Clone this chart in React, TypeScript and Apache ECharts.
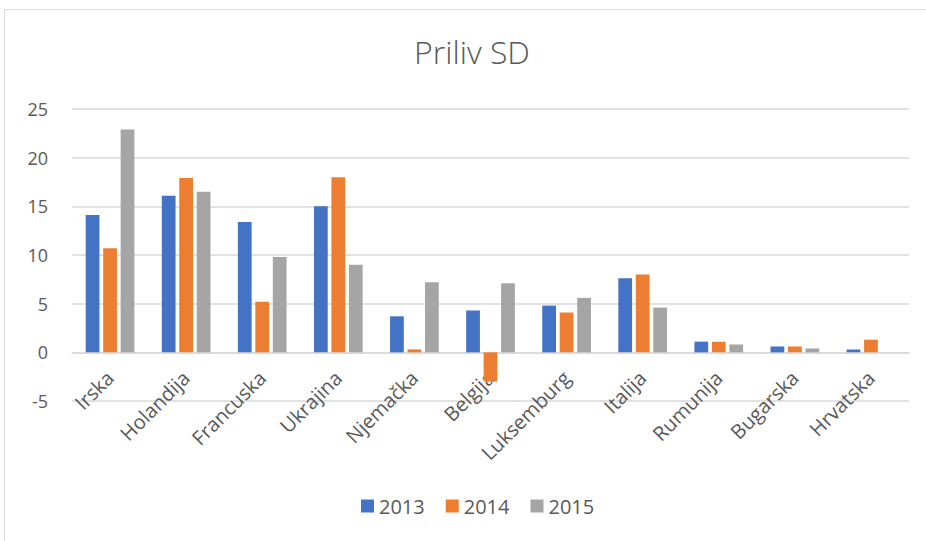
import React, { useEffect, useRef } from "react";
import * as echarts from "echarts";

const categories = ["Irska", "Holandija", "Francuska", "Ukrajina", "Njemačka", "Belgija", "Luksemburg", "Italija", "Rumunija", "Bugarska", "Hrvatska"];
const seriesNames = ["2013", "2014", "2015"];
const values2013 = [14.1, 16.1, 13.4, 15.0, 3.7, 4.3, 4.8, 7.6, 1.1, 0.6, 0.3];
const values2014 = [10.7, 17.9, 5.2, 18.0, 0.3, -3.0, 4.1, 8.0, 1.1, 0.6, 1.3];
const values2015 = [22.9, 16.5, 9.8, 9.0, 7.2, 7.1, 5.6, 4.6, 0.8, 0.4, 0];
const colors = ["#4472C4", "#ED7D31", "#A5A5A5"];

const FONT = "'Open Sans', 'Noto Sans', sans-serif";

export default function App() {
  const ref = useRef<HTMLDivElement>(null);
  useEffect(() => {
    if (!ref.current) return;
    const chart = echarts.init(ref.current, undefined, { renderer: "svg" });
    const data = [values2013, values2014, values2015];
    chart.setOption({
      animation: false,
      backgroundColor: "#ffffff",
      textStyle: { fontFamily: FONT },
      title: {
        text: "Priliv SD",
        left: 409,
        top: 30,
        textStyle: { fontSize: 32, fontWeight: 300, color: "#595959", fontFamily: FONT },
      },
      graphic: [
        { type: "line", shape: { x1: 4.5, y1: 9.5, x2: 4.5, y2: 541 }, style: { stroke: "#d9d9d9", lineWidth: 1 } },
        { type: "line", shape: { x1: 4.5, y1: 9.5, x2: 926, y2: 9.5 }, style: { stroke: "#d9d9d9", lineWidth: 1 } },
      ],
      legend: {
        data: seriesNames,
        bottom: 20,
        left: 356,
        itemWidth: 13,
        itemHeight: 13,
        itemGap: 21,
        icon: "rect",
        textStyle: { fontSize: 20, color: "#595959", fontFamily: FONT },
      },
      grid: { left: 72, right: 17, top: 109, bottom: 140 },
      xAxis: {
        type: "category",
        data: categories,
        position: "bottom",
        offset: -48.7,
        axisLine: { onZero: false, lineStyle: { color: "#d9d9d9", width: 1.5 } },
        axisTick: { show: false },
        axisLabel: { rotate: 45, fontSize: 20, color: "#595959", margin: 22, interval: 0, fontFamily: FONT },
      },
      yAxis: {
        type: "value",
        min: -5,
        max: 25,
        interval: 5,
        axisLine: { show: false },
        axisTick: { show: false },
        axisLabel: { fontSize: 18, color: "#595959", margin: 24, fontFamily: FONT },
        splitLine: { lineStyle: { color: "#d9d9d9", width: 1.5 } },
      },
      series: seriesNames.map((name, i) => ({
        name,
        type: "bar",
        data: data[i],
        barGap: "27%",
        barCategoryGap: "36%",
        itemStyle: { color: colors[i] },
      })),
    });
    return () => chart.dispose();
  }, []);
  return (
    <div style={{ position: "absolute", left: 0, top: 0, width: 926, height: 541, background: "#fff" }}>
      <div ref={ref} style={{ width: 926, height: 541 }} />
    </div>
  );
}
